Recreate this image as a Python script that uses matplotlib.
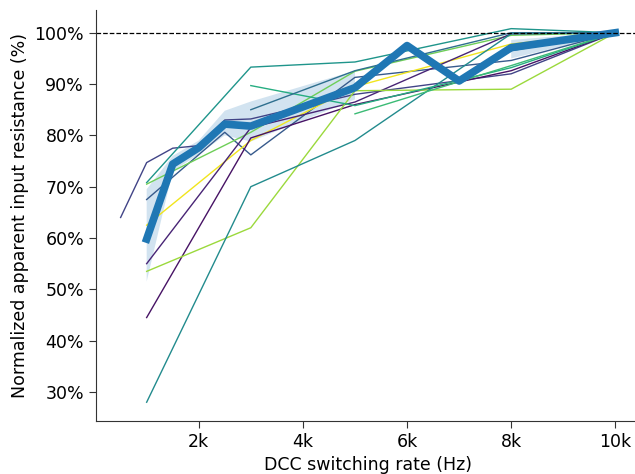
import numpy as np
import matplotlib
matplotlib.use('Agg')
import matplotlib.pyplot as plt
from matplotlib import colormaps as cm
from matplotlib.ticker import PercentFormatter, FuncFormatter

# DATA (switching rate in Hz, normalized resistance in %)
cell_rates = [
    [500, 1000, 1500, 2000, 2500, 3000, 5000, 8000, 10000],
    [1000, 2500, 3000, 5000, 8000, 10000],
    [1000, 3000, 5000, 8000, 10000],
    [1000, 3000, 5000, 8000, 10000],
    [1000, 3000, 5000, 8000, 10000],
    [1000, 3000, 5000, 8000, 10000],
    [1000, 3000, 5000, 8000, 10000],
    [1000, 3000, 5000, 8000, 10000],
    [1000, 3000, 5000, 8000, 10000],
    [3000, 5000, 8000, 10000],
    [3000, 5000, 8000, 10000],
    [5000, 8000, 10000],
    [5000, 6000, 7000, 8000, 10000],
]
cell_values = [
    [64.0, 74.7, 77.5, 78.0, 83.0, 83.2, 88.0, 92.0, 100.0],
    [67.5, 80.6, 76.2, 91.3, 94.6, 100.0],
    [70.8, 93.3, 94.3, 100.8, 100.0],
    [70.5, 80.6, 92.5, 99.5, 100.0],
    [62.5, 79.0, 89.5, 97.8, 100.0],
    [55.0, 81.5, 86.5, 99.8, 100.0],
    [44.5, 79.5, 86.0, 92.6, 100.0],
    [53.5, 62.0, 88.7, 89.0, 100.0],
    [28.0, 70.0, 79.0, 99.8, 100.0],
    [89.7, 85.8, 93.2, 100.0],
    [85.0, 92.6, 100.0, 100.0],
    [84.2, 93.6, 100.0],
    [89.5, 97.5, 90.6, 96.5, 100.0],
]
cell_shades = [0.20, 0.28, 0.52, 0.78, 0.98, 0.10, 0.05, 0.85, 0.48, 0.62, 0.36, 0.68, 0.40]

mean_rates = [1000, 1500, 2000, 2500, 3000, 5000, 6000, 7000, 8000, 10000]
mean_values = [59.8, 74.4, 77.6, 82.2, 81.8, 89.3, 97.5, 90.6, 97.1, 100.0]
band_low = [51.5, 73.0, 76.3, 80.0, 78.8, 87.0, np.nan, np.nan, 95.0, 99.8]
band_high = [69.5, 76.0, 79.0, 84.8, 86.6, 92.6, np.nan, np.nan, 98.6, 100.2]

xtick_rates = [2000, 4000, 6000, 8000, 10000]

fig = plt.figure(figsize=(6.35, 4.74), dpi=100)
ax = fig.add_axes([0.151, 0.112, 0.857, 0.867])

cmap = cm['viridis']
for rates, vals, c in zip(cell_rates, cell_values, cell_shades):
    ax.plot(rates, vals, color=cmap(c), lw=1.0)

ax.fill_between(mean_rates, band_low, band_high, color='tab:blue', alpha=0.2, lw=0)
ax.plot(mean_rates, mean_values, color='tab:blue', lw=5.5)
ax.axhline(100, color='black', ls='--', lw=0.9)

ax.spines['top'].set_visible(False)
ax.spines['right'].set_visible(False)
for s in ['left', 'bottom']:
    ax.spines[s].set_color('#333333')

ax.set_xticks(xtick_rates)
ax.xaxis.set_major_formatter(FuncFormatter(lambda v, p: '%dk' % round(v / 1000)))
ax.yaxis.set_major_formatter(PercentFormatter(decimals=0))
ax.tick_params(labelsize=12.5, length=5, color='#333333')

ax.set_xlabel('DCC switching rate (Hz)', fontsize=12.5)
ax.set_ylabel('Normalized apparent input resistance (%)', fontsize=12.5)

fig.savefig('out.png', dpi=100)
